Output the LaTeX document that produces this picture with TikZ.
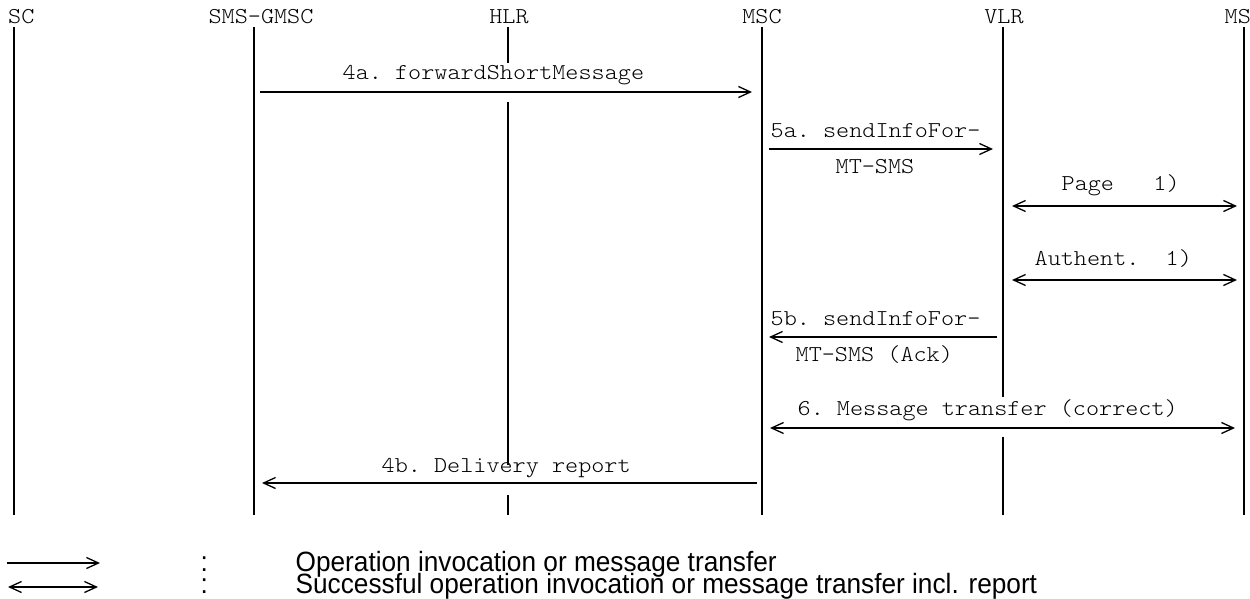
\documentclass[tikz,border=0pt]{standalone}
\usepackage{fontspec}
\setmonofont[FakeStretch=1.1]{Latin Modern Mono Light}
\newfontfamily\legendfont[FakeStretch=0.94]{Liberation Sans}
\usetikzlibrary{arrows.meta}

\begin{document}
\begin{tikzpicture}[
      x=1pt, y=-1pt,
      >={Straight Barb[length=12pt, width=11pt]},
      every node/.style = {inner sep=0pt, anchor=base west, font=\ttfamily\fontsize{22.7}{24}\selectfont},
      every path/.style = {line width=1.3pt},
      head/.style = {anchor=base},
      legend/.style = {font=\legendfont\fontsize{27.9}{21}\selectfont}
    ]
    \useasboundingbox (0,0) rectangle (1250,599);

    % lifeline heads
    \node (sc)   at (7.5,24)            {SC};
    \node (gmsc) [head] at (261,24)     {SMS-GMSC};
    \node (hlr)  [head] at (509,24)     {HLR};
    \node (msc)  [head] at (762,24)     {MSC};
    \node (vlr)  [head] at (1004,24)    {VLR};
    \node (ms)   at (1224,24)           {MS};

    \foreach \n/\x in {sc/14, gmsc/254, hlr/508, msc/762, vlr/1003, ms/1244} {
      \coordinate (\n-top) at (\x,27);
      \coordinate (\n-bot) at (\x,515);
    }

    % heights of the messages
    \coordinate (y4a)   at (0,92);
    \coordinate (y5a)   at (0,149);
    \coordinate (ypage) at (0,206);
    \coordinate (yauth) at (0,280);
    \coordinate (y5b)   at (0,337);
    \coordinate (y6)    at (0,428);
    \coordinate (y4b)   at (0,483);

    % lifelines
    \draw (sc-top)   to (sc-bot);
    \draw (gmsc-top) to (gmsc-bot);
    \draw (hlr-top)  to (hlr-top |- 0,63);
    \draw (hlr-top |- 0,102) to (hlr-top |- 0,465);
    \draw (hlr-top |- 0,495) to (hlr-bot);
    \draw (msc-top)  to (msc-bot);
    \draw (vlr-top)  to (vlr-top |- 0,397);
    \draw (vlr-top |- 0,437) to (vlr-bot);
    \draw (ms-top)   to (ms-bot);

    % messages
    \node (l4a)   at (342,80)   {4a. forwardShortMessage};
    \node (l5a)   at (770,138)  {5a. sendInfoFor-};
    \node (l5a2)  at (835,173)  {MT-SMS};
    \node (lpage) at (1061,190) {Page~~~1)};
    \node (lauth) at (1034,265) {Authent.~~1)};
    \node (l5b)   at (770,325)  {5b. sendInfoFor-};
    \node (l5b2)  at (795,361)  {MT-SMS (Ack)};
    \node (l6)    at (797,415)  {6. Message transfer (correct)};
    \node (l4b)   at (381,472)  {4b. Delivery report};

    \draw[->,  shorten <=6pt, shorten >=10pt] (gmsc-top |- y4a)   to (msc-top |- y4a);
    \draw[->,  shorten <=7pt, shorten >=10pt] (msc-top |- y5a)    to (vlr-top |- y5a);
    \draw[<->, shorten <=9pt, shorten >=7pt]  (vlr-top |- ypage)  to (ms-top |- ypage);
    \draw[<->, shorten <=9pt, shorten >=7pt]  (vlr-top |- yauth)  to (ms-top |- yauth);
    \draw[<-,  shorten <=7pt, shorten >=6pt]  (msc-top |- y5b)    to (vlr-top |- y5b);
    \draw[<->, shorten <=8pt, shorten >=9pt]  (msc-top |- y6)     to (ms-top |- y6);
    \draw[<-,  shorten <=8pt, shorten >=5pt]  (gmsc-top |- y4b)   to (msc-top |- y4b);

    % legend
    \coordinate (leg1a) at (7,563);
    \coordinate (leg1b) at (100,563);
    \coordinate (leg2a) at (8,587);
    \coordinate (leg2b) at (98,587);
    \draw[->]  (leg1a) to (leg1b);
    \draw[<->] (leg2a) to (leg2b);
    \node (col1) [legend] at (200,571.5) {:};
    \node (col2) [legend] at (200,593)   {:};
    \node (txt1) [legend] at (295,571.5) {Operation invocation or message transfer};
    \node (txt2) [legend] at (295,593)   {Successful operation invocation or message transfer incl. report};

  \end{tikzpicture}
\end{document}
